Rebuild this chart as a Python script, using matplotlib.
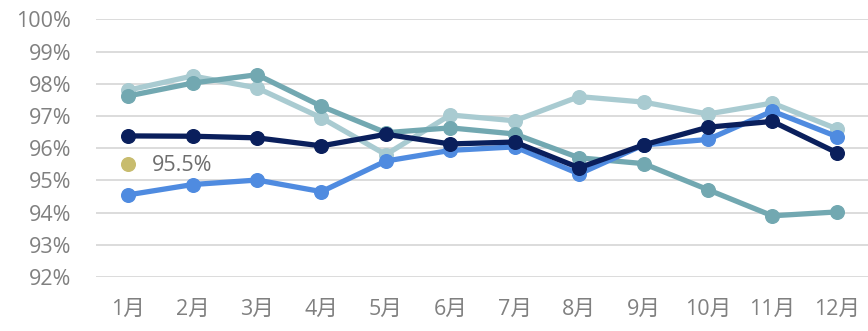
import numpy as np
import matplotlib.pyplot as plt
from matplotlib.ticker import FuncFormatter

plt.rcParams['font.family'] = ['Open Sans', 'Noto Sans CJK SC', 'DejaVu Sans']

months = ["1月", "2月", "3月", "4月", "5月", "6月", "7月", "8月", "9月", "10月", "11月", "12月"]

series_light = [97.80, 98.24, 97.87, 96.94, 95.80, 97.03, 96.85, 97.60, 97.43, 97.06, 97.40, 96.60]
series_teal = [97.62, 98.02, 98.28, 97.30, 96.48, 96.63, 96.44, 95.70, 95.52, 94.71, 93.90, 94.02]
series_blue = [94.55, 94.87, 95.01, 94.65, 95.60, 95.93, 96.04, 95.20, 96.10, 96.27, 97.15, 96.36]
series_navy = [96.38, 96.37, 96.32, 96.07, 96.43, 96.13, 96.19, 95.39, 96.10, 96.65, 96.83, 95.86]
target_value = 95.5

x = np.arange(len(months))

fig = plt.figure(figsize=(8.68, 3.31), dpi=100)
ax = fig.add_axes([96 / 868, 54 / 331, 773 / 868, 257.7 / 331])

lw, ms = 3.8, 9.8
ax.plot(x, series_light, color="#a9cbd1", lw=lw, marker="o", ms=ms, zorder=3)
ax.plot(x, series_teal, color="#72a8b1", lw=lw, marker="o", ms=ms, zorder=4)
ax.plot(x, series_blue, color="#4f8be0", lw=lw, marker="o", ms=ms, zorder=5)
ax.plot(x, series_navy, color="#0a1f5c", lw=lw, marker="o", ms=ms, zorder=6)

ax.plot([0], [target_value], color="#c8bc6e", marker="o", ms=ms, ls="none", zorder=7)
ax.annotate(f"{target_value}%", (0, target_value), xytext=(17, -1), textcoords="offset points",
            va="center", ha="left", fontsize=15.5, color="#6e6e6e")

ax.set_xlim(-0.5, 11.5)
ax.set_ylim(92, 100)
ax.set_yticks(np.arange(92, 101, 1))
ax.yaxis.set_major_formatter(FuncFormatter(lambda v, _: f"{v:.0f}%"))
ax.set_xticks(x)
ax.set_xticklabels(months)

ax.grid(axis="y", color="#d9d9d9", lw=1.3, zorder=0)
ax.set_axisbelow(True)
for s in ax.spines.values():
    s.set_visible(False)
ax.tick_params(axis="both", length=0, labelsize=15.5, labelcolor="#808080")
ax.tick_params(axis="y", pad=18)
ax.tick_params(axis="x", pad=16)

fig.savefig("out.png", dpi=100)
